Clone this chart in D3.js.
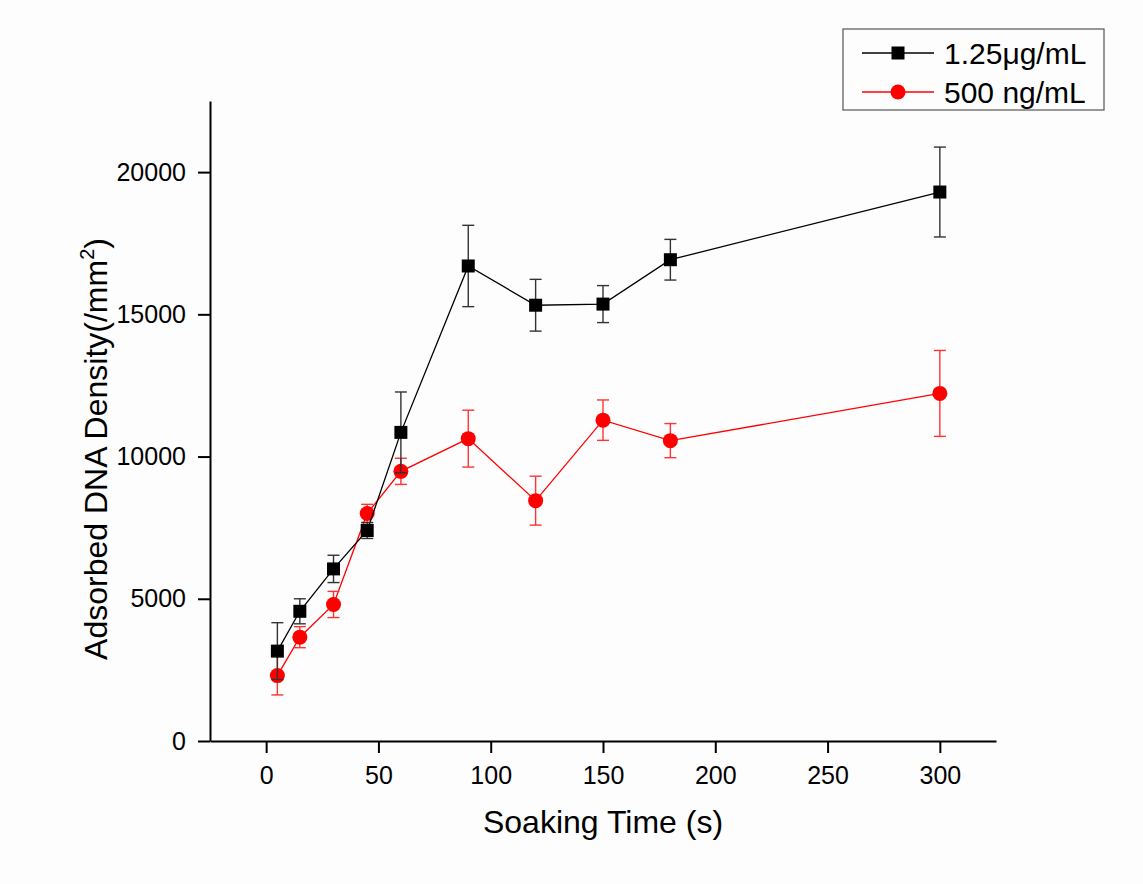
<!DOCTYPE html>
<html><head><meta charset="utf-8">
<script src="https://cdn.jsdelivr.net/npm/d3@7"></script>
<style>body{margin:0;background:#fdfdfd;}svg{display:block;font-family:"Liberation Sans",Arial,sans-serif;}</style>
</head><body>
<svg id="c" width="1143" height="884"></svg>
<script>
const times = [5, 15, 30, 45, 60, 90, 120, 150, 180, 300];
const seriesNames = ["1.25\u03bcg/mL", "500 ng/mL"];
const blackValues = [3160, 4560, 6050, 7400, 10850, 16700, 15320, 15360, 16920, 19300];
const blackErrors = [1000, 440, 480, 280, 1420, 1430, 910, 650, 715, 1580];
const redValues = [2300, 3650, 4800, 8000, 9480, 10630, 8450, 11280, 10560, 12220];
const redErrors = [680, 370, 460, 320, 460, 1000, 860, 710, 600, 1510];
const xMajorTicks = [0, 50, 100, 150, 200, 250, 300];
const xMinorTicks = [-25, 25, 75, 125, 175, 225, 275, 325];
const yMajorTicks = [0, 5000, 10000, 15000, 20000];
const yMinorTicks = [2500, 7500, 12500, 17500, 22500];

const svg = d3.select("#c");
svg.append("rect").attr("width",1143).attr("height",884).attr("fill","#fdfdfd");
const L = 210, R = 996, T = 101, B = 741;
const x = d3.scaleLinear().domain([-25, 325]).range([L, R]);
const y = d3.scaleLinear().domain([0, 22500]).range([B, T]);

// axes
const gx = svg.append("g").attr("transform",`translate(0,${B})`);
gx.call(d3.axisBottom(x).tickValues(xMinorTicks).tickSize(7).tickFormat(""));
gx.call(d3.axisBottom(x).tickValues(xMajorTicks).tickSize(12).tickPadding(13).tickSizeOuter(0));
const gy = svg.append("g").attr("transform",`translate(${L},0)`);
gy.call(d3.axisLeft(y).tickValues(yMinorTicks).tickSize(7).tickFormat(""));
gy.call(d3.axisLeft(y).tickValues(yMajorTicks).tickSize(12).tickPadding(12).tickSizeOuter(0).tickFormat(d3.format("d")));
svg.selectAll(".domain").attr("stroke","#000").attr("stroke-width",2);
svg.selectAll(".tick line").attr("stroke","#000").attr("stroke-width",2);
svg.selectAll(".tick text").attr("font-size",25).attr("fill","#000").attr("font-family","Liberation Sans, Arial, sans-serif");

// titles
svg.append("text").attr("x",(L+R)/2).attr("y",833).attr("text-anchor","middle")
  .attr("font-size",32).attr("fill","#000").text("Soaking Time (s)");
const yt = svg.append("text").attr("transform","translate(107,449) rotate(-90)")
  .attr("text-anchor","middle").attr("font-size",32).attr("fill","#000");
yt.append("tspan").text("Adsorbed DNA Density(/mm");
yt.append("tspan").attr("font-size",20).attr("dy",-13).text("2");
yt.append("tspan").attr("dy",13).text(")");

function drawSeries(vals, errs, color, errColor, shape){
  const data = times.map((t,i)=>({t, v:vals[i], e:errs[i]}));
  const line = d3.line().x(d=>x(d.t)).y(d=>y(d.v));
  svg.append("path").datum(data).attr("d",line).attr("fill","none")
    .attr("stroke",color).attr("stroke-width",1.3);
  const eb = svg.append("g").attr("stroke",errColor).attr("stroke-width",1.4).attr("fill","none");
  data.forEach(d=>{
    const cx = x(d.t);
    eb.append("line").attr("x1",cx).attr("x2",cx).attr("y1",y(d.v+d.e)).attr("y2",y(d.v-d.e));
    eb.append("line").attr("x1",cx-6).attr("x2",cx+6).attr("y1",y(d.v+d.e)).attr("y2",y(d.v+d.e));
    eb.append("line").attr("x1",cx-6).attr("x2",cx+6).attr("y1",y(d.v-d.e)).attr("y2",y(d.v-d.e));
  });
  const g = svg.append("g").attr("fill",color);
  data.forEach(d=>{
    if(shape==="square") g.append("rect").attr("x",x(d.t)-6.5).attr("y",y(d.v)-6.5).attr("width",13).attr("height",13);
    else g.append("circle").attr("cx",x(d.t)).attr("cy",y(d.v)).attr("r",7.5);
  });
}
drawSeries(redValues, redErrors, "#ff0000", "#ff3333", "circle");
drawSeries(blackValues, blackErrors, "#000000", "#333333", "square");

// legend
const lg = svg.append("g");
lg.append("rect").attr("x",843).attr("y",29).attr("width",261).attr("height",81)
  .attr("fill","#fdfdfd").attr("stroke","#555").attr("stroke-width",1.2);
const rows = [{name:seriesNames[0], color:"#000", shape:"square", cy:53},
              {name:seriesNames[1], color:"#ff0000", shape:"circle", cy:92}];
rows.forEach(r=>{
  lg.append("line").attr("x1",862).attr("x2",934).attr("y1",r.cy).attr("y2",r.cy)
    .attr("stroke",r.color).attr("stroke-width",1.3);
  if(r.shape==="square") lg.append("rect").attr("x",898-6.5).attr("y",r.cy-6.5).attr("width",13).attr("height",13).attr("fill",r.color);
  else lg.append("circle").attr("cx",898).attr("cy",r.cy).attr("r",7.5).attr("fill",r.color);
  lg.append("text").attr("x",944).attr("y",r.cy+11).attr("font-size",30).attr("fill","#000").text(r.name);
});
</script>
</body></html>
